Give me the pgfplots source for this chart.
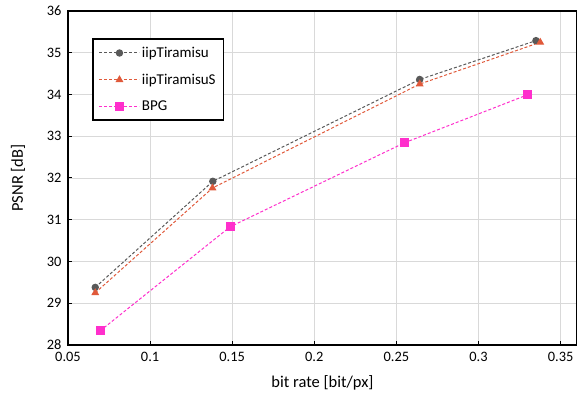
\documentclass[border=0pt]{standalone}
\usepackage{pgfplots}
\pgfplotsset{compat=1.18}
\usepackage{fontspec}
\setmainfont{Carlito}
\definecolor{cgray}{HTML}{595959}
\definecolor{corange}{HTML}{E0593A}
\definecolor{cmag}{HTML}{FF2FCC}
\definecolor{cgrid}{HTML}{D9D9D9}
\begin{document}
\begin{tikzpicture}
\begin{axis}[
  scale only axis,
  width=509pt, height=334pt,
  xmin=0.05, xmax=0.36, ymin=28, ymax=36,
  xtick={0.05,0.1,0.15,0.2,0.25,0.3,0.35},
  ytick={28,29,30,31,32,33,34,35,36},
  xticklabels={0.05,0.1,0.15,0.2,0.25,0.3,0.35},
  scaled x ticks=false,
  /pgf/number format/assume math mode=true,
  tick label style={font=\fontsize{14.4}{16}\selectfont, black},
  xticklabel style={yshift=-4pt},
  yticklabel style={xshift=-3pt},
  label style={font=\fontsize{16.5}{19}\selectfont},
  xlabel={bit rate [bit/px]},
  ylabel={PSNR [dB]},
  xlabel style={at={(axis description cs:0.5,-0.1138)}, anchor=center},
  ylabel style={at={(axis description cs:-0.0982,0.5)}, anchor=center},
  grid=major,
  major grid style={cgrid, line width=0.8pt},
  axis line style={black, line width=1.5pt},
  tick style={black, line width=1pt},
  tick align=inside,
  major tick length=4pt,
  xtick pos=bottom, ytick pos=left,
  legend style={at={(axis description cs:0.0477,0.918)}, anchor=north west,
    draw=black, line width=1.4pt, font=\fontsize{15}{18}\selectfont,
    row sep=11pt, inner xsep=6pt, inner ysep=6pt},
  legend cell align=left,
  legend image code/.code={\draw[mark repeat=2,mark phase=2,#1, line width=1pt] plot coordinates {(0pt,0pt) (20pt,0pt) (40pt,0pt)};},
]
\addplot[cgray, densely dashed, line width=1pt, mark=*, mark size=3.2pt, mark options={solid, fill=cgray}]
  coordinates {(0.0666,29.38) (0.1382,31.92) (0.2642,34.36) (0.335,35.29)};
\addlegendentry{iipTiramisu}
\addplot[corange, densely dashed, line width=1pt, mark=triangle*, mark size=3.6pt, mark options={solid, fill=corange}]
  coordinates {(0.0666,29.25) (0.138,31.76) (0.2642,34.25) (0.3376,35.25)};
\addlegendentry{iipTiramisuS}
\addplot[cmag, densely dashed, line width=1pt, mark=square*, mark size=4pt, mark options={solid, fill=cmag}]
  coordinates {(0.0696,28.34) (0.1487,30.83) (0.2547,32.84) (0.3297,33.99)};
\addlegendentry{BPG}
\end{axis}
\pgfresetboundingbox
\path[use as bounding box] ([shift={(-68pt,-48pt)}]current axis.south west) rectangle ([shift={(0pt,11pt)}]current axis.north east);
\end{tikzpicture}
\end{document}
